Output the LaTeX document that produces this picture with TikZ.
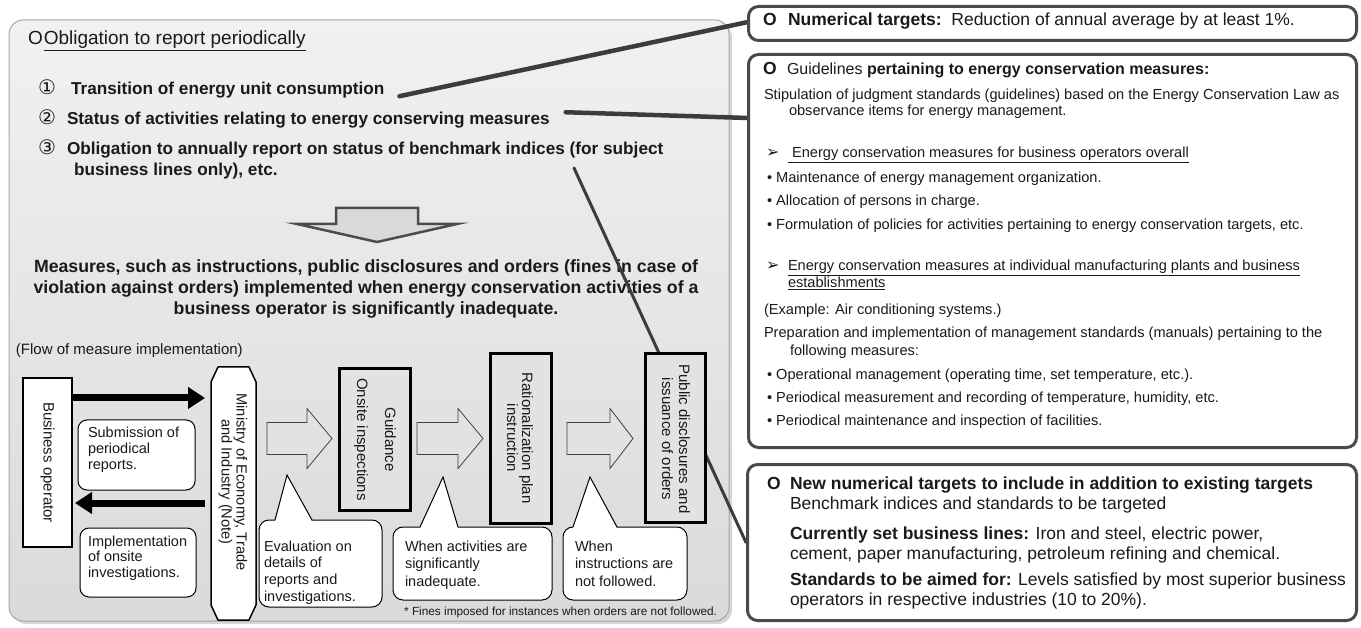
\documentclass[tikz,border=0pt]{standalone}
\usepackage{fontspec}
\setmainfont{Liberation Sans}
\newfontfamily\dejavu{DejaVu Sans}
\usetikzlibrary{arrows.meta,calc}
\newcommand\myfs[2]{\fontsize{#1}{#2}\selectfont}
\definecolor{panelTop}{HTML}{F1F1F1}
\definecolor{panelBot}{HTML}{DADADA}
\definecolor{boxGray}{HTML}{E2E2E2}
\definecolor{conn}{HTML}{3C3C3C}
\definecolor{rbord}{HTML}{4A4A4A}
\definecolor{txt}{HTML}{1A1A1A}
\newcommand\harrow[3]{\draw[harr] (#1,422.5) -- (#2,422.5) -- (#2,408.5) -- (#3,438.5) -- (#2,468.5) -- (#2,454.5) -- (#1,454.5) -- cycle;}
\begin{document}
\begin{tikzpicture}[x=1pt,y=-1pt,
  every node/.style={inner sep=0pt, outer sep=0pt, text=txt},
  lt/.style={anchor=mid west, font=\myfs{17.2}{20}\bfseries},
  digit/.style={anchor=mid west, font=\dejavu\myfs{20}{22}},
  ft/.style={font=\myfs{14.7}{15}},
  harr/.style={fill=boxGray, draw=black!75, line width=0.8pt},
  stage/.style={draw=black, line width=3.5pt, fill=boxGray},
  callout/.style={draw=black, line width=1pt, rounded corners=10pt, fill=white},
  ctext/.style={anchor=north west, align=left, font=\myfs{14.5}{16.8}},
  bigarrow/.style={line width=7pt, -{Triangle[length=17pt,width=21pt]}},
  rbox/.style={draw=rbord, line width=3pt, rounded corners=10pt, fill=white},
  bigO/.style={anchor=mid west, font=\myfs{17.5}{20}\bfseries},
  bt/.style={anchor=mid west, font=\myfs{14.6}{17}},
  arr/.style={anchor=mid west, font=\dejavu\myfs{16}{17}},
  ct/.style={anchor=mid west, font=\myfs{17.5}{20}},
  conn/.style={draw=conn, line cap=round}
]
\useasboundingbox (0,0) rectangle (1361,628);

% left panel
\fill[black!16, rounded corners=14pt] (12,23) rectangle (732,624);
\shadedraw[top color=panelTop, bottom color=panelBot, draw=gray!70, line width=1pt, rounded corners=14pt] (9,20) rectangle (729,621);

\node[anchor=mid west, font=\myfs{19}{21}] (title) at (28,42) {O\kern1pt\underline{Obligation to report periodically}};

\node[digit] (n1) at (38,92) {①};
\node[digit] (n2) at (38,122) {②};
\node[digit] (n3) at (38,152) {③};
\node[lt] (t1) at (71,92) {Transition of energy unit consumption};
\node[lt] (t2) at (67,122) {Status of activities relating to energy conserving measures};
\node[lt] (t3) at (67,152) {Obligation to annually report on status of benchmark indices (for subject};
\node[lt] (t3b) at (74,173) {business lines only), etc.};

\draw[line width=2.5pt, draw=black!70, fill=gray!30] (336,208) -- (418,208) -- (418,224) -- (457,224) -- (377,242) -- (297,224) -- (336,224) -- cycle;

\node[font=\myfs{17.7}{21.2}\bfseries, align=center] (meas) at (366,289) {Measures, such as instructions, public disclosures and orders (fines in case of\\violation against orders) implemented when energy conservation activities of a\\business operator is significantly inadequate.};

\node[anchor=mid west, font=\myfs{15}{18}] (flow) at (16,352) {(Flow of measure implementation)};

% business operator
\node[draw=black, line width=1.2pt, fill=white, minimum width=49pt, minimum height=169pt] (biz) at (47.5,462.5) {};
\node[rotate=-90, font=\myfs{15}{18}] (bizt) at (biz.center) {Business operator};

% ministry
\node[minimum width=45pt, minimum height=253pt] (min) at (233.5,493.5) {};
\draw[line width=1.5pt, fill=white, line join=round]
  ([xshift=7pt]min.north west) -- ([xshift=-7pt]min.north east) -- ([yshift=-15pt]min.north east)
  -- ([yshift=15pt]min.south east) -- ([xshift=-7pt]min.south east) -- ([xshift=7pt]min.south west)
  -- ([yshift=15pt]min.south west) -- ([yshift=-15pt]min.north west) -- cycle;
\node[rotate=-90, align=center, ft] (mint) at (233,482) {Ministry of Economy, Trade\\and Industry (Note)};

\draw[bigarrow, shorten >=6pt] (biz.east |- 0,398) -- (min.west |- 0,398);
\draw[bigarrow, shorten >=3pt, shorten <=6pt] (min.west |- 0,503) -- (biz.east |- 0,503);

\node[callout, rounded corners=9pt, minimum width=117pt, minimum height=70pt] (sub) at (136.5,455) {};
\node[ctext, font=\myfs{14.5}{16}] (subt) at (88,426.5) {Submission of\\periodical\\reports.};
\node[callout, rounded corners=9pt, minimum width=116pt, minimum height=69pt] (impl) at (138,562.5) {};
\node[ctext, font=\myfs{14.5}{15.5}] (implt) at (88,535.5) {Implementation\\of onsite\\investigations.};

% hollow arrows
\harrow{267}{307}{332}
\harrow{417}{458}{483}
\harrow{567}{610}{633}

\coordinate (cS) at (574,168);

% stage boxes
\node[stage, minimum width=71pt, minimum height=142pt] (guid) at (375,439.5) {};
\node[rotate=-90, align=center, font=\myfs{15}{28}] (guidt) at (guid.center) {Guidance\\Onsite inspections};
\node[stage, minimum width=61pt, minimum height=170pt] (rat) at (521,438.5) {};
\node[rotate=-90, align=center, font=\myfs{15}{15}] (ratt) at (520,438) {Rationalization plan\\instruction};

% connector 3 (passes behind the public box)
\draw[conn, line width=3pt] (cS) -- (746,542.5);

\node[stage, minimum width=60pt, minimum height=169pt] (pub) at (675.5,438) {};
\node[rotate=-90, align=center, font=\myfs{15}{17}] (pubt) at (676,439) {Public disclosures and\\issuance of orders};

% callouts
\node[callout, minimum width=123pt, minimum height=87pt] (c1) at (320.5,563.5) {};
\coordinate (c1tip) at (287,475);
\fill[white] ($(c1.north west)+(16,1.6)$) -- (c1tip) -- ($(c1.north west)+(53,1.6)$) -- cycle;
\draw[line width=1pt] ($(c1.north west)+(16,0)$) -- (c1tip) -- ($(c1.north west)+(53,0)$);
\node[ctext] (c1t) at (264,540.5) {Evaluation on\\details of\\reports and\\investigations.};

\node[callout, minimum width=159pt, minimum height=73pt] (c2) at (472.5,563.5) {};
\coordinate (c2tip) at (443,477);
\fill[white] ($(c2.north west)+(27,1.6)$) -- (c2tip) -- ($(c2.north west)+(65,1.6)$) -- cycle;
\draw[line width=1pt] ($(c2.north west)+(27,0)$) -- (c2tip) -- ($(c2.north west)+(65,0)$);
\node[ctext, font=\myfs{14.5}{17.5}] (c2t) at (405,540.5) {When activities are\\significantly\\inadequate.};

\node[callout, minimum width=124pt, minimum height=73pt] (c3) at (625,563.5) {};
\coordinate (c3tip) at (590,477);
\fill[white] ($(c3.north west)+(10,1.6)$) -- (c3tip) -- ($(c3.north west)+(54,1.6)$) -- cycle;
\draw[line width=1pt] ($(c3.north west)+(10,0)$) -- (c3tip) -- ($(c3.north west)+(54,0)$);
\node[ctext, font=\myfs{14.5}{17.5}] (c3t) at (575,540.5) {When\\instructions are\\not followed.};

\node[anchor=mid east, font=\myfs{11.8}{14}] (foot) at (717,613) {* Fines imposed for instances when orders are not followed.};

% connectors to right boxes
\draw[conn, line width=4.5pt] ($(t1.east)+(15,6)$) -- (748,22);
\draw[conn, line width=4.5pt] ($(t2.east)+(16,-8)$) -- (748,118);

% right boxes
\node[rbox, minimum width=608pt, minimum height=34pt] (bA) at (1052.5,23.5) {};
\node[rbox, minimum width=608pt, minimum height=393pt] (bB) at (1052.5,251) {};
\node[rbox, minimum width=609pt, minimum height=156pt] (bC) at (1052,542.5) {};

\node[bigO] (oA) at (763,23) {O};
\node[ct] (tA) at (788,23) {\textbf{Numerical targets:}\ \ Reduction of annual average by at least 1\%.};

\node[bigO] (oB) at (763,72) {O};
\node[anchor=mid west, font=\myfs{16}{18}] (b1) at (787,72) {Guidelines \textbf{pertaining to energy conservation measures:}};
\node[bt] (b2) at (764,97) {Stipulation of judgment standards (guidelines) based on the Energy Conservation Law as};
\node[bt] (b3) at (789,113) {observance items for energy management.};
\node[arr] (b4a) at (766,155) {➢};
\node[bt] (b4) at (788,155) {\underline{\ Energy conservation measures for business operators overall}};
\node[bt] (b5) at (767,180) {• Maintenance of energy management organization.};
\node[bt] (b6) at (767,203) {• Allocation of persons in charge.};
\node[bt] (b7) at (767,227) {• Formulation of policies for activities pertaining to energy conservation targets, etc.};
\node[arr] (b8a) at (766,268) {➢};
\node[bt] (b8) at (788,268) {\underline{Energy conservation measures at individual manufacturing plants and business}};
\node[bt] (b9) at (788,285) {\underline{establishments}};
\node[bt] (b10) at (764,312) {(Example: Air conditioning systems.)};
\node[bt] (b11) at (764,335) {Preparation and implementation of management standards (manuals) pertaining to the};
\node[bt] (b12) at (790,353) {following measures:};
\node[bt] (b13) at (767,377) {• Operational management (operating time, set temperature, etc.).};
\node[bt] (b14) at (767,400) {• Periodical measurement and recording of temperature, humidity, etc.};
\node[bt] (b15) at (767,423) {• Periodical maintenance and inspection of facilities.};

\node[bigO] (oC) at (767,487) {O};
\node[ct] (k1) at (790,487) {\textbf{New numerical targets to include in addition to existing targets}};
\node[ct] (k2) at (790,507) {Benchmark indices and standards to be targeted};
\node[ct] (k3) at (790,537) {\textbf{Currently set business lines:} Iron and steel, electric power,};
\node[ct] (k4) at (790,557) {cement, paper manufacturing, petroleum refining and chemical.};
\node[ct] (k5) at (790,583) {\textbf{Standards to be aimed for:} Levels satisfied by most superior business};
\node[ct] (k6) at (790,603) {operators in respective industries (10 to 20\%).};
\end{tikzpicture}
\end{document}
